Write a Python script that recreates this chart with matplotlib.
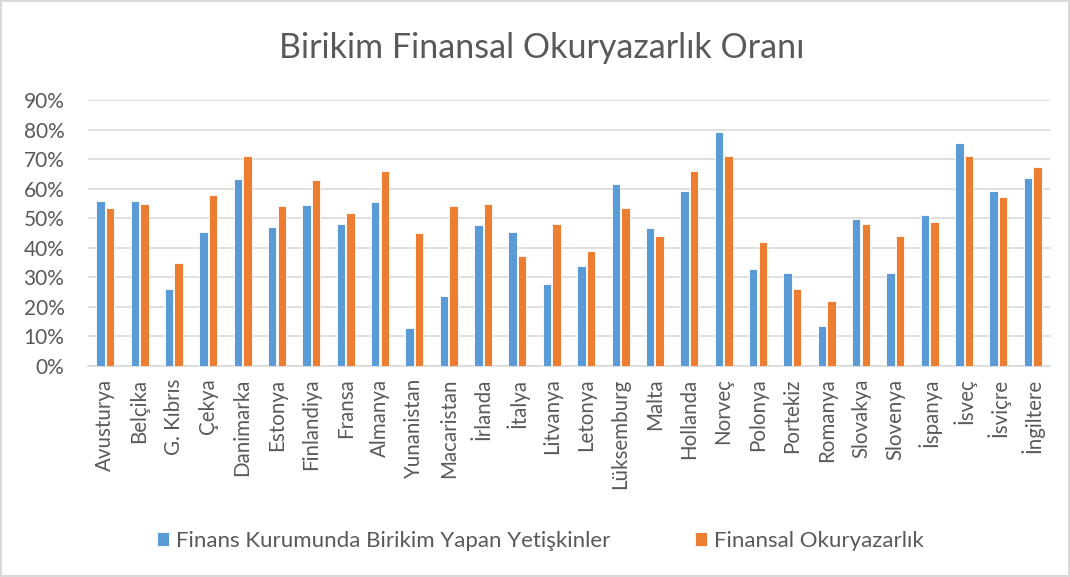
import numpy as np
import matplotlib.pyplot as plt

plt.rcParams['font.family'] = ['Lato', 'DejaVu Sans']

countries = ['Avusturya', 'Belçika', 'G. Kıbrıs', 'Çekya', 'Danimarka', 'Estonya',
             'Finlandiya', 'Fransa', 'Almanya', 'Yunanistan', 'Macaristan', 'İrlanda',
             'İtalya', 'Litvanya', 'Letonya', 'Lüksemburg', 'Malta', 'Hollanda',
             'Norveç', 'Polonya', 'Portekiz', 'Romanya', 'Slovakya', 'Slovenya',
             'İspanya', 'İsveç', 'İsviçre', 'İngiltere']

# Finans Kurumunda Birikim Yapan Yetişkinler
birikim = [55.7, 55.7, 26.2, 45.3, 63.2, 47.1, 54.5, 48.0, 55.4, 12.7, 23.6, 47.6,
           45.3, 27.6, 34.0, 61.5, 46.7, 59.3, 79.3, 32.8, 31.4, 13.7, 49.8, 31.4,
           51.0, 75.4, 59.3, 63.7]
# Finansal Okuryazarlık
okuryazarlik = [53.3, 54.9, 34.9, 58.0, 71.1, 54.2, 62.9, 51.9, 65.9, 44.9, 54.2, 54.9,
                37.1, 48.0, 38.8, 53.3, 44.1, 65.9, 71.1, 42.0, 26.2, 21.9, 48.0, 44.1,
                48.8, 71.1, 57.1, 67.2]

blue = '#5b9bd5'
orange = '#ed7d31'
grey = '#595959'

fig = plt.figure(figsize=(10.7, 5.77), dpi=100)
fig.patch.set_edgecolor('#d9d9d9')
fig.patch.set_linewidth(1.5)
ax = fig.add_axes([88 / 1070, 1 - 366 / 577, 962 / 1070, 266 / 577])

x = np.arange(len(countries))
w = 0.245
ax.bar(x - 0.14, np.array(birikim) / 100, w, color=blue, edgecolor='white', linewidth=0.6,
       label='Finans Kurumunda Birikim Yapan Yetişkinler', zorder=3)
ax.bar(x + 0.14, np.array(okuryazarlik) / 100, w, color=orange, edgecolor='white', linewidth=0.6,
       label='Finansal Okuryazarlık', zorder=3)

ax.set_xlim(-0.5, len(countries) - 0.5)
ax.set_ylim(0, 0.9)
ax.set_yticks(np.arange(0, 0.91, 0.1))
ax.set_yticklabels([f'{int(round(v * 100))}%' for v in np.arange(0, 0.91, 0.1)])
ax.set_xticks(x)
ax.set_xticklabels(countries, rotation=90)
ax.tick_params(axis='both', length=0, colors=grey)
ax.tick_params(axis='y', pad=17, labelsize=15)
ax.tick_params(axis='x', pad=9, labelsize=14.8)
ax.grid(axis='y', color='#d9d9d9', linewidth=1.2, zorder=0)
for s in ['top', 'right', 'left']:
    ax.spines[s].set_visible(False)
ax.spines['bottom'].set_color('#d9d9d9')
ax.spines['bottom'].set_linewidth(1.2)

fig.text(0.506, 1 - 48 / 577, 'Birikim Finansal Okuryazarlık Oranı', ha='center', va='center',
         fontsize=24.5, color=grey)

fig.legend(loc='center', bbox_to_anchor=(0.505, 1 - 541 / 577), ncol=2, frameon=False,
           fontsize=16, labelcolor=grey, handlelength=0.55, handleheight=0.55,
           handletextpad=0.3, columnspacing=3.8)

fig.savefig('out.png', dpi=100)
